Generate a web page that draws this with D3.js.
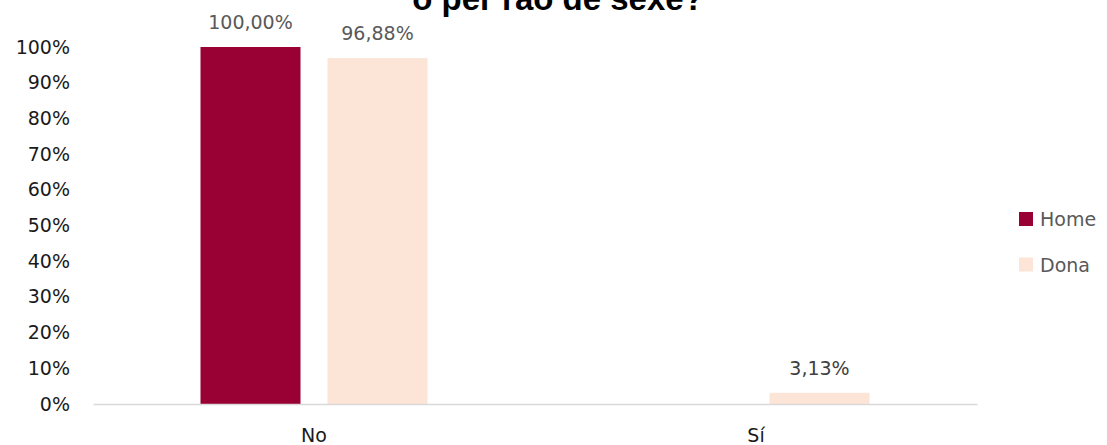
<!DOCTYPE html>
<html><head><meta charset="utf-8">
<script src="https://cdn.jsdelivr.net/npm/d3@7"></script>
<style>body{margin:0;background:#fff;overflow:hidden}svg{display:block}</style>
</head><body>
<svg id="c" width="1107" height="445"></svg>
<script>
const categories = ["No", "Sí"];
const seriesNames = ["Home", "Dona"];
const homeValues = [100.00, 0];
const donaValues = [96.88, 3.13];
const yTicks = [0,10,20,30,40,50,60,70,80,90,100];
const colors = ["#990033", "#FCE4D6"];
const labelColors = ["#595959", "#404040"];
const title = "o per raó de sexe?";

const font = "'DejaVu Sans', 'Liberation Sans', Arial, sans-serif";
const fs = 19;
const svg = d3.select("#c");
const m = {left: 93, right: 977, top: 47, bottom: 404};

const x0 = d3.scaleBand().domain(categories).range([m.left, m.right]);
const x1 = d3.scaleBand().domain(seriesNames).range([0, 227]).paddingInner(27/127);
const y = d3.scaleLinear().domain([0, 100]).range([m.bottom, m.top]);

svg.append("text").attr("x", 558).attr("y", 9.5).attr("text-anchor","middle")
  .attr("font-family", "'Liberation Sans', Arial, sans-serif").attr("font-weight","bold")
  .attr("font-size", 33).attr("fill","#000").text(title);

// y axis labels
const yAxis = d3.axisLeft(y).tickValues(yTicks).tickFormat(d => d + "%").tickSize(0).tickPadding(0);
const gy = svg.append("g").attr("transform", `translate(70,0)`).call(yAxis);
gy.select(".domain").remove();
gy.selectAll("text").attr("font-family", font).attr("font-size", fs).attr("fill", "#1a1a1a");

const data = categories.map((c, i) => ({cat: c, vals: [
  {s: seriesNames[0], v: homeValues[i], c: colors[0], lc: labelColors[i]},
  {s: seriesNames[1], v: donaValues[i], c: colors[1], lc: labelColors[i]}]}));

const g = svg.append("g");
const grp = g.selectAll("g.cat").data(data).enter().append("g")
  .attr("transform", d => `translate(${x0(d.cat) + x0.bandwidth()/2 - 113.5},0)`);
grp.selectAll("rect").data(d => d.vals.filter(v => v.v > 0)).enter().append("rect")
  .attr("x", d => x1(d.s)).attr("width", x1.bandwidth())
  .attr("y", d => y(d.v)).attr("height", d => y(0) - y(d.v)).attr("fill", d => d.c);
grp.selectAll("text").data(d => d.vals.filter(v => v.v > 0)).enter().append("text")
  .attr("x", d => x1(d.s) + x1.bandwidth()/2).attr("y", d => y(d.v) - 18)
  .attr("text-anchor","middle").attr("font-family", font).attr("font-size", fs)
  .attr("fill", d => d.lc).text(d => d.v.toFixed(2).replace(".", ",") + "%");

// x axis
const xAxis = d3.axisBottom(x0).tickSize(0).tickPadding(0);
const gx = svg.append("g").attr("transform", `translate(0,${m.bottom})`).call(xAxis);
gx.select(".domain").attr("stroke", "#d9d9d9").attr("stroke-width", 1.5);
gx.selectAll("text").attr("font-family", font).attr("font-size", fs).attr("fill", "#1a1a1a")
  .attr("dy", null).attr("y", 38);

// legend
const lg = svg.append("g").attr("transform", "translate(1019,212)");
const li = lg.selectAll("g").data(seriesNames).enter().append("g")
  .attr("transform", (d, i) => `translate(0,${i * 45.5})`);
li.append("rect").attr("width", 14).attr("height", 14).attr("fill", (d, i) => colors[i]);
li.append("text").attr("x", 21).attr("y", 14).attr("font-family", font).attr("font-size", fs)
  .attr("fill", "#595959").text(d => d);
</script>
</body></html>
